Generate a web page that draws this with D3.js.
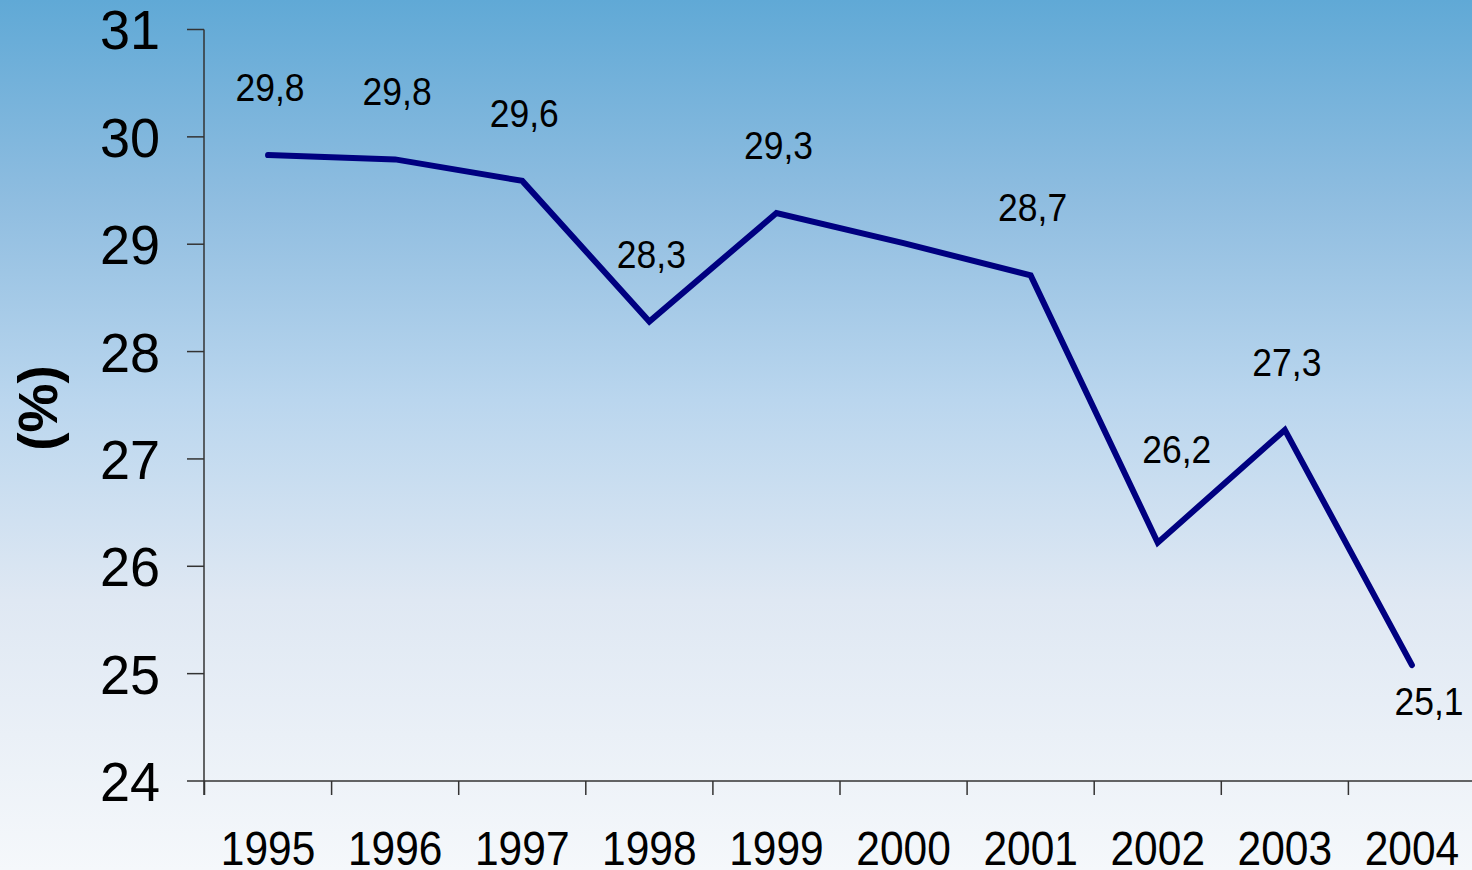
<!DOCTYPE html>
<html>
<head>
<meta charset="utf-8">
<script src="https://cdn.jsdelivr.net/npm/d3@7"></script>
<style>
  html, body { margin: 0; padding: 0; overflow: hidden; }
  svg { display: block; font-family: "Liberation Sans", Arial, sans-serif; }
</style>
</head>
<body>
<svg id="chart" width="1472" height="870"></svg>
<script>
const years = ["1995","1996","1997","1998","1999","2000","2001","2002","2003","2004"];
const values = [29.83, 29.79, 29.59, 28.28, 29.29, 29.01, 28.71, 26.22, 27.27, 25.08];
const labels = ["29,8","29,8","29,6","28,3","29,3", null, "28,7","26,2","27,3","25,1"];
const yTicks = [24, 25, 26, 27, 28, 29, 30, 31];
const yTitle = "(%)";

const W = 1472, H = 870;
const svg = d3.select("#chart");

// background gradient
const defs = svg.append("defs");
const grad = defs.append("linearGradient").attr("id","bg")
  .attr("x1",0).attr("y1",0).attr("x2",0).attr("y2",1);
[[0,"#60a9d6"],[0.23,"#8fbde0"],[0.46,"#bad6ee"],[0.69,"#dfe8f3"],[1,"#f5f8fb"]]
  .forEach(([o,c]) => grad.append("stop").attr("offset",o).attr("stop-color",c));
svg.append("rect").attr("width",W).attr("height",H).attr("fill","url(#bg)");

const x = d3.scaleBand().domain(years).range([204.5, 1475.5]).padding(0);
const y = d3.scaleLinear().domain([24, 31]).range([781, 29.5]);

const axisColor = "#333";

// y axis
const yAxis = svg.append("g");
yAxis.append("line").attr("x1",204).attr("x2",204).attr("y1",y(31)).attr("y2",795)
  .attr("stroke",axisColor).attr("stroke-width",1.5);
yAxis.selectAll("line.tick").data(yTicks).join("line").attr("class","tick")
  .attr("x1",187).attr("x2",204).attr("y1",d=>y(d)).attr("y2",d=>y(d))
  .attr("stroke",axisColor).attr("stroke-width",1.5);
yAxis.selectAll("text").data(yTicks).join("text")
  .attr("transform", d => `translate(160,${y(d)}) scale(1,1.04)`)
  .attr("text-anchor","end").attr("dy", 19.2)
  .attr("font-size", 54).attr("fill","#000")
  .text(d => d);

// x axis
const xAxis = svg.append("g");
xAxis.append("line").attr("x1",204).attr("x2",1476).attr("y1",781).attr("y2",781)
  .attr("stroke",axisColor).attr("stroke-width",1.5);
const bounds = years.map(d => x(d)).concat([x(years[years.length-1]) + x.bandwidth()]);
xAxis.selectAll("line.tick").data(bounds).join("line").attr("class","tick")
  .attr("x1",d=>d).attr("x2",d=>d).attr("y1",781).attr("y2",795)
  .attr("stroke",axisColor).attr("stroke-width",1.5);
xAxis.selectAll("text").data(years).join("text")
  .attr("transform", d => `translate(${x(d)+x.bandwidth()/2},865) scale(1,1.15)`)
  .attr("text-anchor","middle")
  .attr("font-size", 42.5).attr("fill","#000")
  .text(d => d);

// y title
svg.append("text")
  .attr("transform","translate(57,408) rotate(-90)")
  .attr("text-anchor","middle")
  .attr("font-size", 55).attr("font-weight","bold").attr("fill","#000")
  .text(yTitle);

// line
const cx = d => x(d) + x.bandwidth()/2;
const pts = years.map((d,i) => [cx(d), y(values[i])]);
svg.append("path").attr("d", d3.line()(pts))
  .attr("fill","none").attr("stroke","#000080").attr("stroke-width",6)
  .attr("stroke-linejoin","miter").attr("stroke-linecap","round");

// data labels
const labelOffset = { "2002": [19, -80], "2004": [17, 50] };
svg.append("g").selectAll("text").data(years.map((d,i)=>({d,i})).filter(o=>labels[o.i]!==null))
  .join("text")
  .attr("transform", o => {
    const off = labelOffset[o.d] || [2, -54];
    return `translate(${cx(o.d)+off[0]},${y(values[o.i])+off[1]}) scale(1,1.1)`;
  })
  .attr("text-anchor","middle")
  .attr("font-size", 35.5).attr("fill","#000")
  .text(o => labels[o.i]);
</script>
</body>
</html>
